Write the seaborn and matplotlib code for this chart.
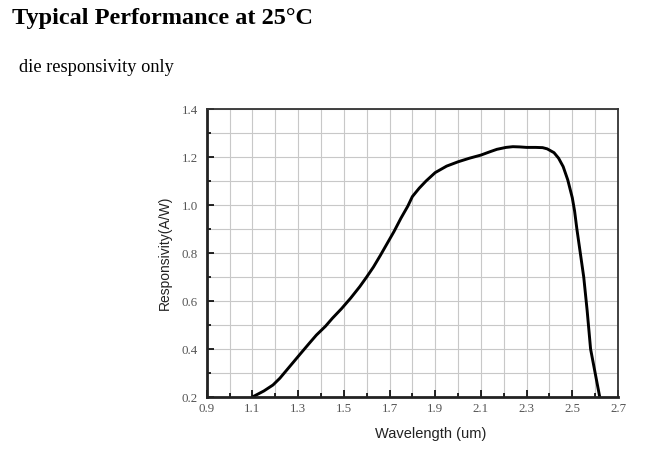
import numpy as np
import pandas as pd
import seaborn as sns
import matplotlib.pyplot as plt
from matplotlib.ticker import MultipleLocator

# Kurwa (um, A/W)
wavelength = [1.10, 1.15, 1.19, 1.22, 1.25, 1.28, 1.31, 1.35, 1.38, 1.42, 1.45, 1.49,
              1.53, 1.57, 1.60, 1.63, 1.66, 1.69, 1.72, 1.75, 1.78, 1.80, 1.83,
              1.86, 1.90, 1.95, 2.00, 2.05, 2.10, 2.14, 2.17, 2.21, 2.24, 2.27,
              2.30, 2.34, 2.37, 2.39, 2.42, 2.44, 2.46, 2.48, 2.50, 2.51, 2.52,
              2.535, 2.55, 2.565, 2.58, 2.60, 2.62]
responsivity = [0.200, 0.225, 0.250, 0.278, 0.312, 0.346, 0.380, 0.425, 0.458, 0.495,
                0.528, 0.568, 0.612, 0.660, 0.700, 0.742, 0.790, 0.840, 0.890, 0.945,
                0.995, 1.035, 1.070, 1.100, 1.135, 1.162, 1.180, 1.195, 1.208, 1.222,
                1.232, 1.240, 1.243, 1.242, 1.240, 1.240, 1.239, 1.234, 1.218, 1.195,
                1.160, 1.105, 1.030, 0.975, 0.900, 0.800, 0.700, 0.560, 0.400, 0.300,
                0.200]

x_ticks = [0.9, 1.1, 1.3, 1.5, 1.7, 1.9, 2.1, 2.3, 2.5, 2.7]
y_ticks = [0.2, 0.4, 0.6, 0.8, 1.0, 1.2, 1.4]

df = pd.DataFrame({'wl': wavelength, 'resp': responsivity})

sns.set_style('white')
fig = plt.figure(figsize=(6.51, 4.53), dpi=100)
W, H = 651, 453
ax = fig.add_axes([206.7 / W, 1 - 397 / H, (618 - 206.7) / W, (397 - 109) / H])

sns.lineplot(data=df, x='wl', y='resp', ax=ax, color='black', linewidth=2.1)

ax.set_xlim(0.9, 2.7)
ax.set_ylim(0.2, 1.4)
ax.set_xticks(x_ticks)
ax.set_yticks(y_ticks)
ax.set_xticklabels([f'{v:.1f}' for v in x_ticks])
ax.set_yticklabels([f'{v:.1f}' for v in y_ticks])
ax.xaxis.set_minor_locator(MultipleLocator(0.1))
ax.yaxis.set_minor_locator(MultipleLocator(0.1))
ax.grid(True, which='both', color='#c8c8c8', linewidth=0.8)
ax.set_axisbelow(True)
ax.tick_params(which='both', direction='in', bottom=True, left=True, colors='black')
ax.tick_params(which='major', length=5, width=1.2)
ax.tick_params(which='minor', length=3, width=1.2)
ax.tick_params(axis='y', which='major', pad=6.5)
ax.tick_params(axis='x', which='major', pad=4)
for lab in ax.get_xticklabels() + ax.get_yticklabels():
    lab.set_family('Liberation Serif')
    lab.set_fontsize(9.3)
    lab.set_color('#555555')
for side in ['left', 'bottom']:
    ax.spines[side].set_linewidth(2)
    ax.spines[side].set_color('#222222')
for side in ['top', 'right']:
    ax.spines[side].set_linewidth(1.3)
    ax.spines[side].set_color('#333333')

ax.set_xlabel('Wavelength (um)', fontsize=10.5, family='Liberation Sans', color='#222222')
ax.set_ylabel('Responsivity(A/W)', fontsize=10, family='Liberation Sans', color='#222222')
ax.xaxis.set_label_coords((431 - 206.7) / (618 - 206.7), -(434 - 397) / (397 - 109), transform=ax.transAxes)
ax.yaxis.set_label_coords(-(206.7 - 165) / (618 - 206.7), 0.5)
ax.xaxis.label.set_va('center')
ax.yaxis.label.set_va('center')

fig.text(12 / W, 1 - 24 / H, 'Typical Performance at 25°C', family='Liberation Serif',
         fontweight='bold', fontsize=17.5, color='black')
fig.text(19 / W, 1 - 72 / H, 'die responsivity only', family='Liberation Serif',
         fontsize=13.2, color='black')

fig.savefig('out.png', dpi=100)
